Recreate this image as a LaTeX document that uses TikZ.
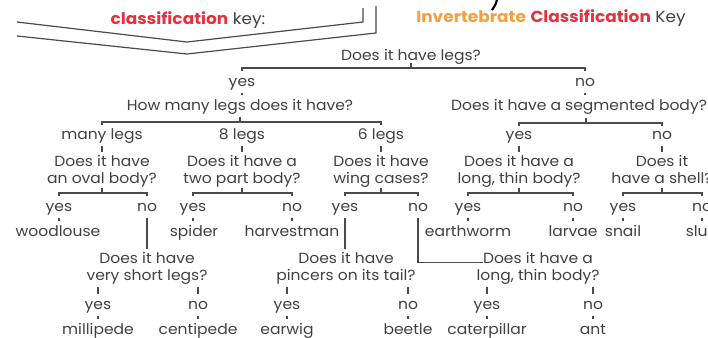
\documentclass[tikz,border=0pt]{standalone}
\usepackage{fontspec}
\setmainfont{Poppins}[FakeStretch=1.06]
\usetikzlibrary{calc}
\definecolor{txt}{HTML}{404040}
\definecolor{lnc}{HTML}{4A4A4A}
\definecolor{kred}{HTML}{E3323D}
\definecolor{korange}{HTML}{F5A03F}
\newcommand\brk[4]{%
  \coordinate (bk) at (0,#4);
  \draw[con] ($(#2 |- bk)+(0,3)$) -- (#2 |- bk) -- (#3 |- bk) -- ($(#3 |- bk)+(0,3)$);
  \draw[con] ($(#1 |- bk)+(0,-5)$) -- (#1 |- bk);}
\newcommand\tk[2]{\draw[con,shorten <=2pt,shorten >=2pt] (#1.south) -- (#1.south |- #2.north);}
\newcommand\tku[2]{\draw[con,shorten <=2pt,shorten >=2pt] (#2.north) -- (#2.north |- #1.south);}
\newcommand\two[2]{\rule{0pt}{8.8pt}#1\\#2\rule[-2.75pt]{0pt}{2.75pt}}
\begin{document}
\begin{tikzpicture}[x=0.75pt,y=-0.75pt,
  lbl/.style={text=txt, font=\fontsize{11}{12.75}\selectfont, inner sep=0pt, text height=8.8pt, text depth=2.75pt},
  qq/.style={text=txt, font=\fontsize{11}{12.75}\selectfont, inner sep=0pt, align=center},
  ttl/.style={text=txt, font=\fontsize{12}{14}\selectfont, inner sep=0pt},
  con/.style={draw=lnc, line width=1.05pt},
  chev/.style={draw=lnc, line width=0.9pt}]
\useasboundingbox (0,0) rectangle (708,337);
\clip (0,0) rectangle (708,337);
% header decoration
\draw[chev] (17,22) -- (187,42) -- (363,22) -- (363,8);
\draw[chev] (17,36) -- (187,54) -- (376,33) -- (376,6);
\draw[line width=1.6pt, black] (497,-1) .. controls (496,4) .. (492,10);
\node[ttl] (tkey) at (188,20) {\textcolor{kred}{\bfseries classification}~key:};
\node[ttl] (title) at (551,18) {\textcolor{korange}{\bfseries Invertebrate}~\textcolor{kred}{\bfseries Classification}~Key};
% tree
\node[lbl] (q1) at (411,56) {Does it have legs?};
\node[lbl] (y1) at (242,82) {yes};
\node[lbl] (n1) at (585,82) {no};
\node[lbl] (q2) at (240,106) {How many legs does it have?};
\node[lbl] (q3) at (579,106) {Does it have a segmented body?};
\coordinate (q3c) at (586,106);
\node[lbl] (am) at (102,135) {many legs};
\node[lbl] (a8) at (242,135) {8 legs};
\node[lbl] (a6) at (381,135) {6 legs};
\node[lbl] (y3) at (519,135) {yes};
\node[lbl] (n3) at (662,135) {no};
\node[qq] (q4) at (102,171) {\two{Does it have}{an oval body?}};
\node[qq] (q5) at (242,171) {\two{Does it have a}{two part body?}};
\node[qq] (q6) at (381,171) {\two{Does it have}{wing cases?}};
\node[qq] (q7) at (519,171) {\two{Does it have a}{long, thin body?}};
\node[qq] (q8) at (662,171) {\two{Does it}{have a shell?}};
\node[lbl] (y4) at (59,207) {yes};
\node[lbl] (n4) at (147,207) {no};
\node[lbl] (y5) at (193,207) {yes};
\node[lbl] (n5) at (292,207) {no};
\node[lbl] (y6) at (345,207) {yes};
\node[lbl] (n6) at (418,207) {no};
\node[lbl] (y7) at (468,207) {yes};
\node[lbl] (n7) at (573,207) {no};
\node[lbl] (y8) at (623,207) {yes};
\node[lbl] (n8) at (702,207) {no};
\node[lbl] (woodlouse) at (58,232) {woodlouse};
\node[lbl] (spider) at (194,232) {spider};
\node[lbl] (harvestman) at (292,232) {harvestman};
\node[lbl] (earthworm) at (468,232) {earthworm};
\node[lbl] (larvae) at (573,232) {larvae};
\node[lbl] (snail) at (623,232) {snail};
\node[lbl] (slug) at (702,232) {slug};
\node[qq] (q9) at (147,268) {\two{Does it have}{very short legs?}};
\node[qq] (q10) at (346,268) {\two{Does it have}{pincers on its tail?}};
\node[qq] (q11) at (538,268) {\two{Does it have a}{long, thin body?}};
\node[lbl] (y9) at (98,305) {yes};
\node[lbl] (n9) at (198,305) {no};
\node[lbl] (y10) at (287,305) {yes};
\node[lbl] (n10) at (408,305) {no};
\node[lbl] (y11) at (487,305) {yes};
\node[lbl] (n11) at (593,305) {no};
\node[lbl] (millipede) at (98,330) {millipede};
\node[lbl] (centipede) at (198,330) {centipede};
\node[lbl] (earwig) at (287,330) {earwig};
\node[lbl] (beetle) at (408,330) {beetle};
\node[lbl] (caterpillar) at (487,330) {caterpillar};
\node[lbl] (ant) at (593,330) {ant};
% connectors
\brk{q1}{y1}{n1}{68}
\tk{y1}{q2}
\tk{n1}{q3}
\brk{q2}{am}{a6}{122}
\brk{q3c}{y3}{n3}{123}
\tk{am}{q4}
\tk{a8}{q5}
\tk{a6}{q6}
\tk{y3}{q7}
\tk{n3}{q8}
\brk{q4}{y4}{n4}{193}
\brk{q5}{y5}{n5}{193}
\brk{q6}{y6}{n6}{193}
\brk{q7}{y7}{n7}{193}
\brk{q8}{y8}{n8}{193}
\tk{y4}{woodlouse}
\tk{y5}{spider}
\tk{n5}{harvestman}
\tk{y7}{earthworm}
\tk{n7}{larvae}
\tk{y8}{snail}
\tk{n8}{slug}
\tk{n4}{q9}
\tk{y6}{q10}
\draw[con,shorten <=2pt] (n6.south) |- ($(q11.north west)+(7,11)$);
\tku{q9}{y9}
\tku{q9}{n9}
\tku{q10}{y10}
\tku{q10}{n10}
\tku{q11}{y11}
\tku{q11}{n11}
\tk{y9}{millipede}
\tk{n9}{centipede}
\tk{y10}{earwig}
\tk{n10}{beetle}
\tk{y11}{caterpillar}
\tk{n11}{ant}
\end{tikzpicture}
\end{document}
